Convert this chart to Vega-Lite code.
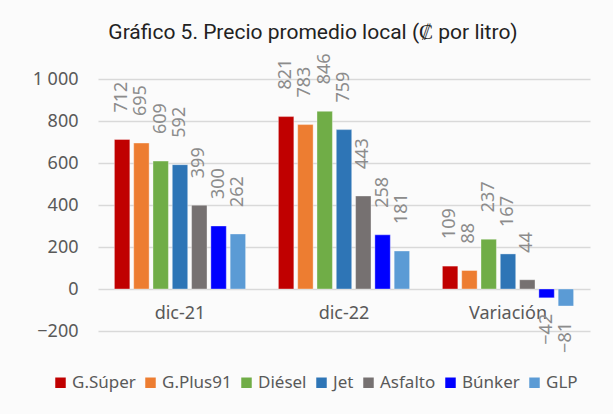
{
  "$schema": "https://vega.github.io/schema/vega-lite/v6.json",
  "autosize": "none",
  "width": 492,
  "height": 252,
  "padding": {"left": 98, "top": 79, "right": 23, "bottom": 83},
  "background": "#fbfbfb",
  "title": {
    "text": "Gráfico 5. Precio promedio local (₡ por litro)",
    "frame": "group",
    "anchor": "middle",
    "dx": -31,
    "offset": -7,
    "baseline": "alphabetic",
    "font": "Liberation Sans Narrow, Roboto",
    "fontSize": 21,
    "fontWeight": "normal",
    "color": "#222222"
  },
  "data": {
    "values": [
      {"grupo": "dic-21", "tipo": "G.Súper", "valor": 712},
      {"grupo": "dic-21", "tipo": "G.Plus91", "valor": 695},
      {"grupo": "dic-21", "tipo": "Diésel", "valor": 609},
      {"grupo": "dic-21", "tipo": "Jet", "valor": 592},
      {"grupo": "dic-21", "tipo": "Asfalto", "valor": 399},
      {"grupo": "dic-21", "tipo": "Búnker", "valor": 300},
      {"grupo": "dic-21", "tipo": "GLP", "valor": 262},
      {"grupo": "dic-22", "tipo": "G.Súper", "valor": 821},
      {"grupo": "dic-22", "tipo": "G.Plus91", "valor": 783},
      {"grupo": "dic-22", "tipo": "Diésel", "valor": 846},
      {"grupo": "dic-22", "tipo": "Jet", "valor": 759},
      {"grupo": "dic-22", "tipo": "Asfalto", "valor": 443},
      {"grupo": "dic-22", "tipo": "Búnker", "valor": 258},
      {"grupo": "dic-22", "tipo": "GLP", "valor": 181},
      {"grupo": "Variación", "tipo": "G.Súper", "valor": 109},
      {"grupo": "Variación", "tipo": "G.Plus91", "valor": 88},
      {"grupo": "Variación", "tipo": "Diésel", "valor": 237},
      {"grupo": "Variación", "tipo": "Jet", "valor": 167},
      {"grupo": "Variación", "tipo": "Asfalto", "valor": 44},
      {"grupo": "Variación", "tipo": "Búnker", "valor": -42},
      {"grupo": "Variación", "tipo": "GLP", "valor": -81}
    ]
  },
  "encoding": {
    "x": {
      "field": "grupo",
      "type": "nominal",
      "sort": ["dic-21", "dic-22", "Variación"],
      "scale": {"paddingInner": 0.2, "paddingOuter": 0.1},
      "axis": {
        "title": null,
        "labelAngle": 0,
        "domain": false,
        "ticks": false,
        "offset": -42,
        "labelPadding": 15,
        "labelFontSize": 18,
        "labelColor": "#595959",
        "labelFont": "Noto Sans"
      }
    },
    "xOffset": {
      "field": "tipo",
      "type": "nominal",
      "sort": ["G.Súper", "G.Plus91", "Diésel", "Jet", "Asfalto", "Búnker", "GLP"],
      "scale": {"paddingInner": 0.2, "paddingOuter": 0}
    },
    "y": {
      "field": "valor",
      "type": "quantitative",
      "scale": {"domain": [-200, 1000], "nice": false},
      "axis": {
        "title": null,
        "values": [-200, 0, 200, 400, 600, 800, 1000],
        "labelExpr": "replace(format(datum.value, ','), ',', ' ')",
        "domain": false,
        "ticks": false,
        "grid": true,
        "gridColor": "#d9d9d9",
        "gridWidth": 1.3,
        "labelPadding": 20,
        "labelFontSize": 18,
        "labelColor": "#595959",
        "labelFont": "Noto Sans"
      }
    }
  },
  "layer": [
    {
      "mark": {"type": "bar", "stroke": "#ffffff", "strokeWidth": 0.6, "strokeOpacity": 0.6},
      "encoding": {
        "color": {
          "field": "tipo",
          "type": "nominal",
          "sort": ["G.Súper", "G.Plus91", "Diésel", "Jet", "Asfalto", "Búnker", "GLP"],
          "scale": {
            "domain": ["G.Súper", "G.Plus91", "Diésel", "Jet", "Asfalto", "Búnker", "GLP"],
            "range": ["#C00000", "#ED7D31", "#70AD47", "#2E75B6", "#767171", "#0000FF", "#5B9BD5"]
          },
          "legend": {
            "title": null,
            "orient": "none",
            "direction": "horizontal",
            "columns": 7,
            "legendX": -46,
            "legendY": 295,
            "symbolType": "square",
            "symbolSize": 110,
            "symbolStrokeWidth": 0,
            "labelFontSize": 17,
            "labelColor": "#595959",
            "labelFont": "Noto Sans",
            "labelOffset": 3,
            "columnPadding": 6
          }
        }
      }
    },
    {
      "transform": [{"filter": "datum.valor >= 0"}],
      "mark": {
        "type": "text",
        "angle": 270,
        "align": "left",
        "baseline": "middle",
        "dx": 27,
        "fontSize": 18,
        "font": "Noto Sans",
        "color": "#8c8c8c"
      },
      "encoding": {"text": {"field": "valor", "type": "quantitative", "format": "d"}}
    },
    {
      "transform": [{"filter": "datum.valor < 0"}],
      "mark": {
        "type": "text",
        "angle": 270,
        "align": "right",
        "baseline": "middle",
        "dx": -16,
        "fontSize": 18,
        "font": "Noto Sans",
        "color": "#8c8c8c"
      },
      "encoding": {"text": {"field": "valor", "type": "quantitative", "format": "d"}}
    }
  ],
  "config": {"view": {"stroke": null}}
}
